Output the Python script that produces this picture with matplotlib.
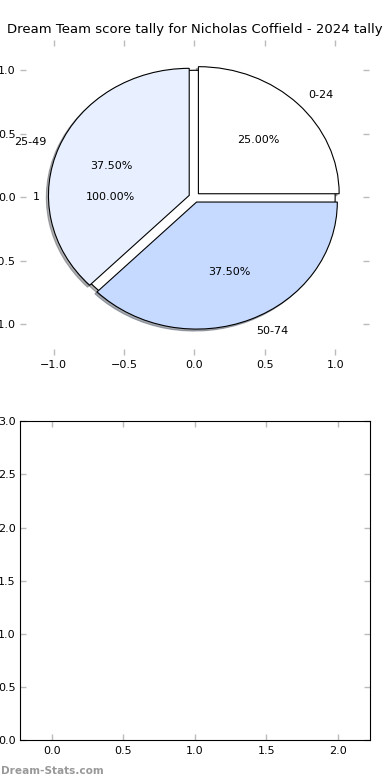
import matplotlib
matplotlib.use("Agg")
import matplotlib.pyplot as plt
import numpy as np

title = "Dream Team score tally for Nicholas Coffield - 2024 tally"
base_labels = ["1"]
base_values = [1]
labels = ["0-24", "25-49", "50-74"]
values = [25.0, 37.5, 37.5]
colors = ["#ffffff", "#e8f0ff", "#c6d9ff"]
explode = [0.04, 0.04, 0.04]

fig = plt.figure(figsize=(3.9, 7.8), dpi=100)
ax1 = fig.add_axes([0.051, 0.545, 0.895, 0.404])
ax2 = fig.add_axes([0.051, 0.051, 0.897, 0.409])

wp = dict(edgecolor="black", linewidth=0.8)
shadow = dict(ox=-0.011, oy=-0.011, shade=0.6)
ax1.pie(base_values, labels=base_labels, autopct="%1.2f%%", shadow=shadow,
        startangle=0, colors=["#ffffff"], wedgeprops=wp, frame=True,
        textprops=dict(fontsize=8))
ax1.pie(values, labels=labels, autopct="%1.2f%%", shadow=shadow, explode=explode,
        startangle=0, colors=colors, wedgeprops=wp, frame=True,
        textprops=dict(fontsize=8))
ax1.set_aspect("auto")
ax1.set_xlim(-1.24, 1.24)
ax1.set_ylim(-1.24, 1.24)
ax1.set_frame_on(False)
ticks = [-1.0, -0.5, 0.0, 0.5, 1.0]
ax1.set_xticks(ticks)
ax1.set_yticks(ticks)
ax1.set_title(title, fontsize=9.5, pad=5)

ax2.set_xlim(-0.224, 2.224)
ax2.set_ylim(0, 3.0)
ax2.set_xticks(np.arange(0, 2.01, 0.5))
ax2.set_yticks(np.arange(0, 3.01, 0.5))

for ax in (ax1, ax2):
    ax.tick_params(direction="in", color="#bbbbbb", length=4, width=1,
                   top=True, right=True, labelsize=8, pad=4)
    ax.tick_params(axis="y", pad=3)

fig.text(0.003, 0.008, "Dream-Stats.com", color="#999999", fontsize=7.6,
         fontweight="bold")

fig.savefig("out.png", dpi=100)
